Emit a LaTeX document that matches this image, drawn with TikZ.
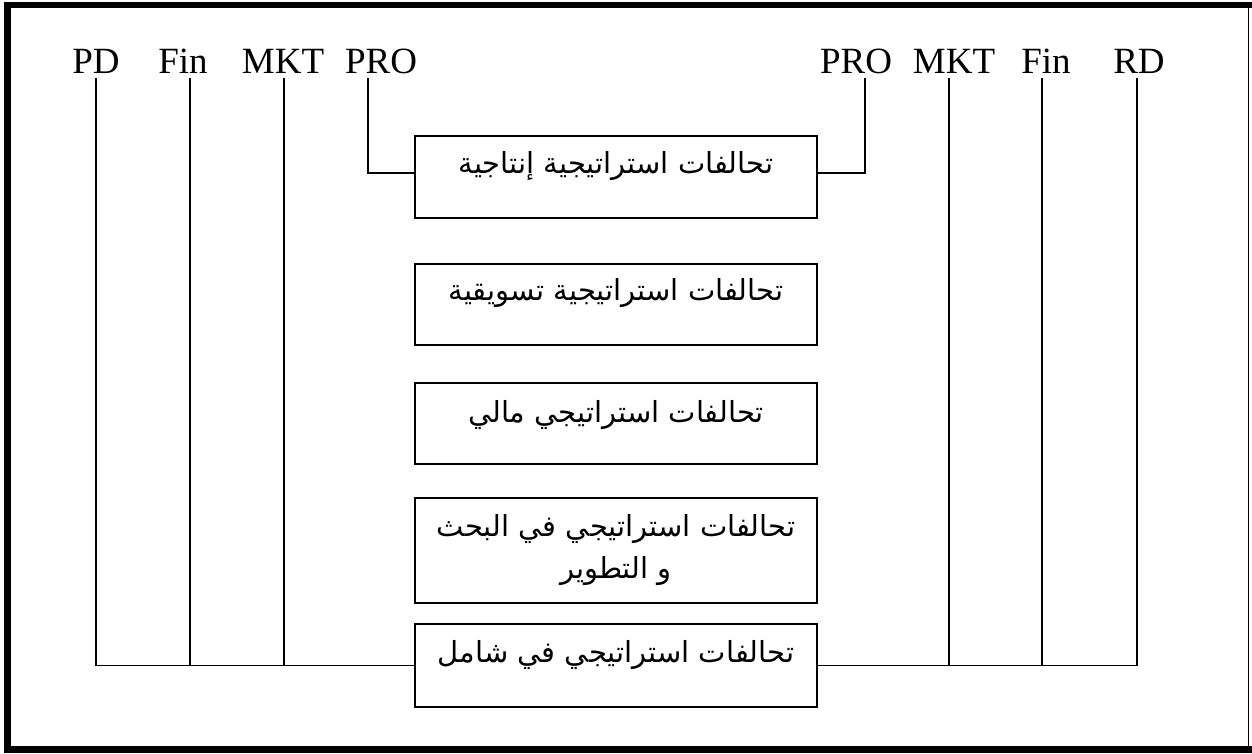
\documentclass[tikz,border=0pt]{standalone}
\usepackage{fontspec}
\setmainfont{Liberation Serif}
\newfontfamily\arabicfont[Script=Arabic]{DejaVu Sans}
\TeXXeTstate=1
\usetikzlibrary{calc}
\begin{document}
\begin{tikzpicture}[x=1pt,y=-1pt,
  dept/.style={anchor=base, inner sep=0pt, font=\fontsize{37}{40}\selectfont},
  alliance/.style={draw, line width=1.5pt, rectangle, inner sep=0pt,
    minimum width=402pt, align=center, anchor=north,
    font=\arabicfont\fontsize{29}{42}\selectfont},
  link/.style={line width=1.5pt}]
\useasboundingbox (0,0) rectangle (1252,753);
% outer frame: heavy on three sides, thin on the right
\fill (4,2) rectangle (1252,8);
\fill (4,2) rectangle (11,753);
\fill (4,746) rectangle (1252,753);
\draw[line width=1.5pt] (1248.5,8) -- (1248.5,746);

% department labels
\node[dept] (pdL)   at (96,73)   {PD};
\node[dept] (finL)  at (183,73)  {Fin};
\node[dept] (mktL)  at (283,73)  {MKT};
\node[dept] (proL)  at (381,73)  {PRO};
\node[dept] (proR)  at (856,73)  {PRO};
\node[dept] (mktR)  at (954,73)  {MKT};
\node[dept] (finR)  at (1046,73) {Fin};
\node[dept] (rdR)   at (1139,73) {RD};

% tops of the connector lines under the labels
\coordinate (pdTop)   at (96,78);
\coordinate (finLTop) at (190,78);
\coordinate (mktLTop) at (284,78);
\coordinate (proLTop) at (368,78);
\coordinate (proRTop) at (865,78);
\coordinate (mktRTop) at (949,78);
\coordinate (finRTop) at (1042,78);
\coordinate (rdTop)   at (1137,78);

% alliance boxes
\node[alliance, text height=38pt, text depth=44pt] (all1) at (616,135)
  {\beginR تحالفات استراتيجية إنتاجية\endR};
\node[alliance, text height=37pt, text depth=44pt] (all2) at (616,263)
  {\beginR تحالفات استراتيجية تسويقية\endR};
\node[alliance, text height=40pt, text depth=41pt] (all3) at (616,382)
  {\beginR تحالفات استراتيجي مالي\endR};
\node[alliance, minimum height=105pt] (all4) at (616,497)
  {\beginR تحالفات استراتيجي في البحث\endR\\\beginR و التطوير\endR};
\node[alliance, text height=39pt, text depth=44pt] (all5) at (616,623)
  {\beginR تحالفات استراتيجي في شامل\endR};

% production links to the first box
\draw[link] (proLTop) |- ($(all1.west)+(0,-4)$);
\draw[link] (proRTop) |- ($(all1.east)+(0,-4)$);

% all functions joined to the comprehensive alliance
\draw[link] (pdTop) |- (all5.west);
\draw[link] (finLTop) -- (finLTop |- all5.west);
\draw[link] (mktLTop) -- (mktLTop |- all5.west);
\draw[link] (rdTop) |- (all5.east);
\draw[link] (finRTop) -- (finRTop |- all5.east);
\draw[link] (mktRTop) -- (mktRTop |- all5.east);
\end{tikzpicture}
\end{document}
